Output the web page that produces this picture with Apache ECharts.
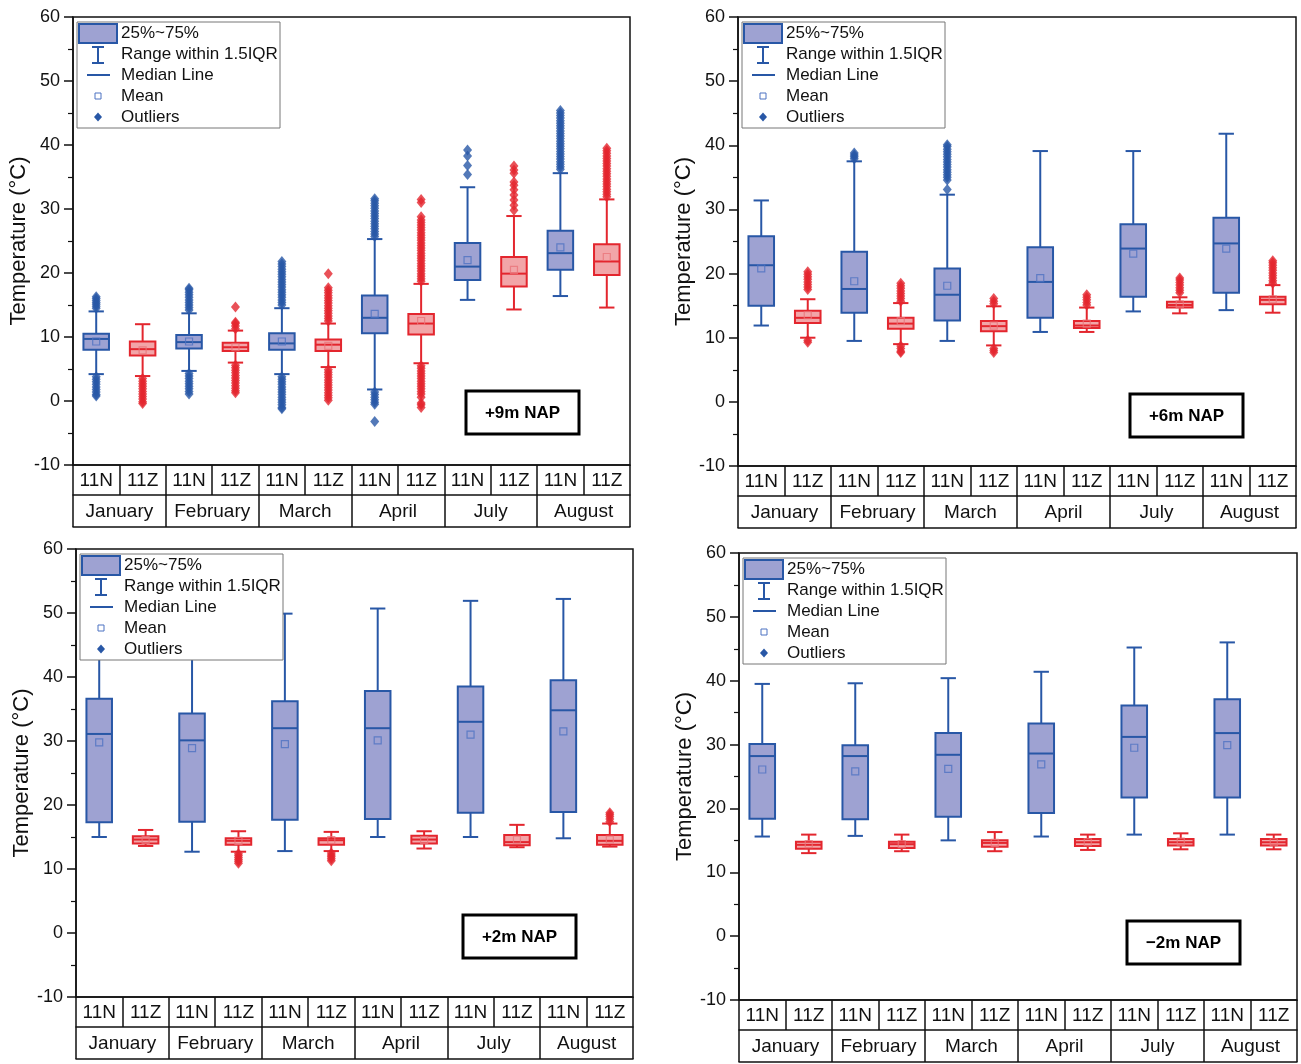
<!DOCTYPE html>
<html>
<head>
<meta charset="utf-8">
<script src="https://cdn.jsdelivr.net/npm/echarts@6/dist/echarts.min.js"></script>
<style>
  html, body { margin: 0; padding: 0; background: #fff; }
  #main { width: 1301px; height: 1064px; }
</style>
</head>
<body>
<div id="main"></div>
<script>
var months = ['January', 'February', 'March', 'April', 'July', 'August'];
var stations = ['11N', '11Z'];
var panelLabels = ['+9m NAP', '+6m NAP', '+2m NAP', '\u22122m NAP'];

// [min, Q1, median, Q3, max] per category (11N, 11Z for each month)
var box9 = [
    [4.2, 8.0, 9.7, 10.5, 14.0], [3.9, 7.1, 8.1, 9.3, 12.0],
    [4.7, 8.2, 9.2, 10.3, 13.7], [6.0, 7.8, 8.4, 9.1, 11.0],
    [4.2, 8.0, 9.0, 10.6, 14.5], [5.3, 7.8, 8.8, 9.6, 12.1],
    [1.8, 10.6, 13.0, 16.5, 25.3], [5.9, 10.4, 12.1, 13.6, 18.3],
    [15.8, 18.9, 21.0, 24.7, 33.4], [14.3, 17.9, 19.9, 22.5, 28.9],
    [16.4, 20.5, 23.1, 26.6, 35.6], [14.6, 19.7, 21.8, 24.5, 31.5]
];
var mean9 = [9.3, 7.9, 9.3, 8.4, 9.3, 8.6, 13.6, 12.5, 22.0, 20.5, 24.0, 22.5];
var out9 = [
    [0, [14.5, 14.8, 15.1, 15.4, 15.7, 16.0, 16.3, 3.8, 3.4, 3.0, 2.6, 2.2, 1.8, 1.4, 1.0, 0.8]],
    [1, [3.5, 3.1, 2.7, 2.3, 1.9, 1.5, 1.1, 0.7, 0.3, -0.1, -0.4]],
    [2, [14.2, 14.6, 15.0, 15.4, 15.8, 16.2, 16.6, 17.0, 17.4, 17.6, 4.3, 3.9, 3.5, 3.1, 2.7, 2.3, 1.9, 1.5, 1.1]],
    [3, [11.3, 11.7, 12.1, 12.3, 14.7, 5.6, 5.2, 4.8, 4.4, 4.0, 3.6, 3.2, 2.8, 2.4, 2.0, 1.6, 1.3]],
    [4, [15.0, 15.4, 15.8, 16.2, 16.6, 17.0, 17.4, 17.8, 18.2, 18.6, 19.0, 19.4, 19.8, 20.2, 20.6, 21.0, 21.4, 21.8,
         3.8, 3.4, 3.0, 2.6, 2.2, 1.8, 1.4, 1.0, 0.6, 0.2, -0.2, -0.6, -1.0, -1.2]],
    [5, [12.5, 12.9, 13.3, 13.7, 14.1, 14.5, 14.9, 15.3, 15.7, 16.1, 16.5, 16.9, 17.3, 17.7, 19.9,
         4.9, 4.5, 4.1, 3.7, 3.3, 2.9, 2.5, 2.1, 1.7, 1.3, 0.9, 0.5, 0.1]],
    [6, [25.7, 26.1, 26.5, 26.9, 27.3, 27.7, 28.1, 28.5, 28.9, 29.3, 29.7, 30.1, 30.5, 30.9, 31.3, 31.6,
         1.4, 1.0, 0.6, 0.2, -0.2, -0.5, -3.2]],
    [7, [18.7, 19.1, 19.5, 19.9, 20.3, 20.7, 21.1, 21.5, 21.9, 22.3, 22.7, 23.1, 23.5, 23.9, 24.3, 24.7, 25.1,
         25.5, 25.9, 26.3, 26.7, 27.1, 27.5, 27.9, 28.3, 28.8, 31.0, 31.5,
         5.5, 5.1, 4.7, 4.3, 3.9, 3.5, 3.1, 2.7, 2.3, 1.9, 1.5, 1.1, 0.6, -0.3, -0.6, -1.0]],
    [8, [35.4, 36.8, 38.3, 39.2]],
    [9, [29.8, 30.6, 31.4, 32.2, 33.0, 33.7, 34.2, 35.6, 36.1, 36.7]],
    [10, [36.2, 36.6, 37.0, 37.4, 37.8, 38.2, 38.6, 39.0, 39.4, 39.8, 40.2, 40.6, 41.0, 41.4, 41.8, 42.2,
          42.6, 43.0, 43.4, 43.8, 44.2, 44.6, 45.0, 45.4]],
    [11, [31.9, 32.3, 32.7, 33.1, 33.5, 33.9, 34.3, 34.7, 35.1, 35.5, 35.9, 36.3, 36.7, 37.1, 37.5, 37.9,
          38.3, 38.7, 39.1, 39.5]]
];

var box6 = [
    [11.9, 15.0, 21.3, 25.8, 31.4], [10.0, 12.3, 13.1, 14.2, 16.0],
    [9.5, 13.9, 17.6, 23.4, 37.5], [9.0, 11.4, 12.2, 13.1, 15.4],
    [9.5, 12.7, 16.7, 20.8, 32.3], [8.8, 11.0, 11.8, 12.6, 14.9],
    [10.9, 13.1, 18.7, 24.1, 39.1], [10.9, 11.5, 11.9, 12.6, 14.7],
    [14.1, 16.4, 23.9, 27.7, 39.1], [13.8, 14.7, 15.1, 15.6, 16.3],
    [14.3, 17.0, 24.7, 28.7, 41.8], [13.9, 15.2, 15.9, 16.4, 18.2]
];
var mean6 = [20.8, 13.5, 18.8, 12.6, 18.1, 11.9, 19.3, 12.2, 23.1, 15.2, 23.9, 16.0];
var out6 = [
    [1, [17.5, 17.9, 18.3, 18.7, 19.1, 19.5, 19.9, 20.3, 9.6, 9.3]],
    [2, [37.9, 38.2, 38.5, 38.8]],
    [3, [15.7, 16.1, 16.5, 16.9, 17.3, 17.7, 18.1, 18.5, 8.7, 8.3, 7.9, 7.7]],
    [4, [33.1, 34.6, 35.0, 35.4, 35.8, 36.2, 36.6, 37.0, 37.4, 37.8, 38.2, 38.6, 39.0, 39.4, 39.8, 40.1]],
    [5, [15.3, 15.7, 16.1, 8.3, 8.0, 7.7]],
    [7, [15.1, 15.5, 15.9, 16.3, 16.7]],
    [9, [17.0, 17.4, 17.8, 18.2, 18.6, 19.0, 19.3]],
    [11, [18.5, 18.9, 19.3, 19.7, 20.1, 20.5, 20.9, 21.3, 21.7, 22.0]]
];

var box2 = [
    [15.0, 17.3, 31.1, 36.6, 49.0], [13.6, 14.0, 14.6, 15.1, 16.1],
    [12.7, 17.4, 30.1, 34.3, 48.0], [12.7, 13.8, 14.4, 14.8, 15.9],
    [12.8, 17.7, 32.0, 36.2, 49.9], [12.8, 13.8, 14.5, 14.8, 15.8],
    [15.0, 17.8, 32.0, 37.8, 50.7], [13.2, 14.0, 14.6, 15.2, 15.9],
    [15.0, 18.8, 33.0, 38.5, 51.9], [13.4, 13.7, 14.2, 15.3, 16.9],
    [14.8, 18.9, 34.8, 39.5, 52.2], [13.5, 13.8, 14.4, 15.3, 17.1]
];
var mean2 = [29.8, 14.5, 28.9, 14.4, 29.5, 14.5, 30.1, 14.5, 31.0, 14.6, 31.5, 14.6];
var out2 = [
    [3, [12.4, 12.1, 11.8, 11.5, 11.2, 10.9]],
    [5, [12.5, 12.2, 11.9, 11.6, 11.3]],
    [11, [17.4, 17.8, 18.2, 18.5, 18.8]]
];

var boxM2 = [
    [15.6, 18.4, 28.2, 30.1, 39.5], [13.0, 13.7, 14.3, 14.8, 15.9],
    [15.7, 18.3, 28.2, 29.9, 39.6], [13.3, 13.8, 14.4, 14.8, 15.9],
    [15.0, 18.7, 28.4, 31.8, 40.4], [13.3, 14.0, 14.6, 15.0, 16.3],
    [15.6, 19.3, 28.6, 33.3, 41.4], [13.5, 14.1, 14.7, 15.2, 15.9],
    [15.9, 21.7, 31.2, 36.1, 45.2], [13.6, 14.2, 14.7, 15.2, 16.1],
    [15.9, 21.7, 31.8, 37.1, 46.0], [13.6, 14.2, 14.7, 15.2, 15.9]
];
var meanM2 = [26.1, 14.4, 25.8, 14.4, 26.2, 14.6, 26.9, 14.7, 29.5, 14.8, 29.9, 14.7];
var outM2 = [];

var panelBoxes = [box9, box6, box2, boxM2];
var panelMeans = [mean9, mean6, mean2, meanM2];
var panelOuts = [out9, out6, out2, outM2];

// layout
var grids = [
    { left: 73, top: 17, width: 557, height: 448 },
    { left: 738, top: 17, width: 558, height: 449 },
    { left: 76, top: 549, width: 557, height: 448 },
    { left: 739, top: 553, width: 558, height: 447 }
];
var napBoxes = [[466, 391], [1130, 394], [463, 915], [1127, 921]];

var FONT = '"Liberation Sans", Arial, sans-serif';
var BLUE = '#2857a6', BLUE_FILL = '#9ea2d2', BLUE_MEAN = '#4d72c2';
var RED = '#e3262e', RED_FILL = '#f2a5a8', RED_MEAN = '#ea7479';
var INK = '#111';

var stationLabels = [];
months.forEach(function () { stations.forEach(function (s) { stationLabels.push(s); }); });

function renderBox(params, api) {
    var i = api.value(0);
    var lo = api.coord([i, api.value(1)]);
    var q1 = api.coord([i, api.value(2)]);
    var md = api.coord([i, api.value(3)]);
    var q3 = api.coord([i, api.value(4)]);
    var hi = api.coord([i, api.value(5)]);
    var bw = api.size([1, 0])[0] * 0.55;
    var cw = bw * 0.6;
    var x = lo[0];
    var red = i % 2 === 1;
    var stroke = red ? RED : BLUE;
    var fill = red ? RED_FILL : BLUE_FILL;
    var ls = { stroke: stroke, lineWidth: 2 };
    return {
        type: 'group',
        children: [
            { type: 'line', shape: { x1: x, y1: lo[1], x2: x, y2: q1[1] }, style: ls },
            { type: 'line', shape: { x1: x, y1: q3[1], x2: x, y2: hi[1] }, style: ls },
            { type: 'line', shape: { x1: x - cw / 2, y1: lo[1], x2: x + cw / 2, y2: lo[1] }, style: ls },
            { type: 'line', shape: { x1: x - cw / 2, y1: hi[1], x2: x + cw / 2, y2: hi[1] }, style: ls },
            { type: 'rect', shape: { x: x - bw / 2, y: q3[1], width: bw, height: q1[1] - q3[1] },
              style: { fill: fill, stroke: stroke, lineWidth: 2 } },
            { type: 'line', shape: { x1: x - bw / 2, y1: md[1], x2: x + bw / 2, y2: md[1] }, style: ls }
        ]
    };
}

var option = {
    backgroundColor: '#fff',
    animation: false,
    textStyle: { fontFamily: FONT },
    grid: [], xAxis: [], yAxis: [], series: [], graphic: []
};

grids.forEach(function (g, p) {
    option.grid.push({
        left: g.left, top: g.top, width: g.width, height: g.height,
        show: true, borderColor: INK, borderWidth: 1.5, backgroundColor: 'transparent'
    });
    var lineSt = { color: INK, width: 1.5 };
    option.xAxis.push({
        gridIndex: p, type: 'category', data: stationLabels, position: 'bottom',
        axisLine: { show: true, onZero: false, lineStyle: lineSt },
        axisTick: { show: true, interval: 0, length: 30, alignWithLabel: false, lineStyle: lineSt },
        axisLabel: { interval: 0, fontSize: 19, color: INK, margin: 6, fontFamily: FONT },
        splitLine: { show: false }
    });
    option.xAxis.push({
        gridIndex: p, type: 'category', data: months, position: 'bottom', offset: 30,
        axisLine: { show: true, onZero: false, lineStyle: lineSt },
        axisTick: { show: true, interval: 0, length: 32, alignWithLabel: false, lineStyle: lineSt },
        axisLabel: { interval: 0, fontSize: 19, color: INK, margin: 7, fontFamily: FONT },
        splitLine: { show: false }
    });
    option.xAxis.push({
        gridIndex: p, type: 'category', data: months, position: 'bottom', offset: 62,
        axisLine: { show: true, onZero: false, lineStyle: lineSt },
        axisTick: { show: false }, axisLabel: { show: false }, splitLine: { show: false }
    });
    option.yAxis.push({
        gridIndex: p, type: 'value', min: -10, max: 60, interval: 10,
        axisLine: { show: true, lineStyle: lineSt },
        axisTick: { show: true, inside: false, length: 9, lineStyle: lineSt },
        minorTick: { show: true, splitNumber: 2, length: 5, lineStyle: { color: INK, width: 1.2 } },
        splitLine: { show: false },
        axisLabel: { fontSize: 18, color: INK, margin: 13, fontFamily: FONT },
        name: 'Temperature (\u00B0C)', nameLocation: 'middle', nameGap: 43,
        nameTextStyle: { fontSize: 22, color: INK, fontFamily: FONT }
    });

    var boxData = panelBoxes[p].map(function (b, i) { return [i].concat(b); });
    option.series.push({
        type: 'custom', xAxisIndex: p * 3, yAxisIndex: p, z: 2,
        renderItem: renderBox,
        encode: { x: 0, y: [1, 2, 3, 4, 5] },
        data: boxData
    });

    var outData = [];
    panelOuts[p].forEach(function (o) {
        o[1].forEach(function (v) {
            outData.push({ value: [o[0], v], itemStyle: { color: o[0] % 2 ? RED : BLUE } });
        });
    });
    option.series.push({
        type: 'scatter', xAxisIndex: p * 3, yAxisIndex: p, z: 3,
        symbol: 'diamond', symbolSize: [9, 11],
        data: outData
    });

    var meanData = panelMeans[p].map(function (m, i) {
        return { value: [i, m], itemStyle: { borderColor: i % 2 ? RED_MEAN : BLUE_MEAN } };
    });
    option.series.push({
        type: 'scatter', xAxisIndex: p * 3, yAxisIndex: p, z: 4,
        symbol: 'rect', symbolSize: 7,
        itemStyle: { color: 'rgba(0,0,0,0)', borderWidth: 1.2 },
        data: meanData
    });

    // legend box
    var lx = g.left + 4, ly = g.top + 5;
    var tx = lx + 44;
    var ts = function (txt, y) {
        return { type: 'text', z: 101, x: tx, y: ly + y,
                 style: { text: txt, font: '17px ' + FONT, fill: INK,
                          verticalAlign: 'middle', textVerticalAlign: 'middle' } };
    };
    var bl = { stroke: BLUE, lineWidth: 2 };
    option.graphic.push(
        { type: 'rect', z: 100, shape: { x: lx, y: ly, width: 203, height: 106 },
          style: { fill: '#fff', stroke: '#777', lineWidth: 1 } },
        { type: 'rect', z: 101, shape: { x: lx + 2, y: ly + 2, width: 38, height: 19 },
          style: { fill: BLUE_FILL, stroke: BLUE, lineWidth: 2 } },
        ts('25%~75%', 11),
        { type: 'line', z: 101, shape: { x1: lx + 21, y1: ly + 25, x2: lx + 21, y2: ly + 41 }, style: bl },
        { type: 'line', z: 101, shape: { x1: lx + 15, y1: ly + 25, x2: lx + 27, y2: ly + 25 }, style: bl },
        { type: 'line', z: 101, shape: { x1: lx + 15, y1: ly + 41, x2: lx + 27, y2: ly + 41 }, style: bl },
        ts('Range within 1.5IQR', 32),
        { type: 'line', z: 101, shape: { x1: lx + 10, y1: ly + 53, x2: lx + 33, y2: ly + 53 }, style: bl },
        ts('Median Line', 53),
        { type: 'rect', z: 101, shape: { x: lx + 18, y: ly + 71, width: 6, height: 6 },
          style: { fill: 'none', stroke: BLUE_MEAN, lineWidth: 1 } },
        ts('Mean', 74),
        { type: 'polygon', z: 101,
          shape: { points: [[lx + 21, ly + 90.5], [lx + 25, ly + 95], [lx + 21, ly + 99.5], [lx + 17, ly + 95]] },
          style: { fill: BLUE } },
        ts('Outliers', 95)
    );

    // NAP label box
    var nb = napBoxes[p];
    option.graphic.push(
        { type: 'rect', z: 100, shape: { x: nb[0], y: nb[1], width: 113, height: 43 },
          style: { fill: '#fff', stroke: '#000', lineWidth: 3 } },
        { type: 'text', z: 101, x: nb[0] + 56.5, y: nb[1] + 22,
          style: { text: panelLabels[p], font: 'bold 17px ' + FONT, fill: '#000',
                   align: 'center', textAlign: 'center',
                   verticalAlign: 'middle', textVerticalAlign: 'middle' } }
    );
});

var myChart = echarts.init(document.getElementById('main'));
myChart.setOption(option);
</script>
</body>
</html>
